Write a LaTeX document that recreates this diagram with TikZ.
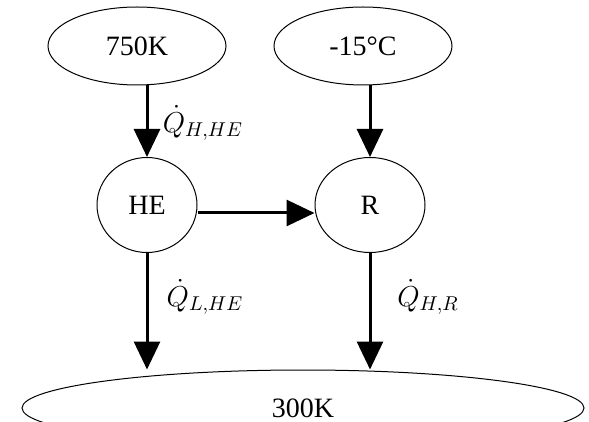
\documentclass[tikz,border=0pt]{standalone}
\usepackage{fontspec}
\setmainfont{Liberation Serif}
\usetikzlibrary{arrows.meta,shapes.geometric}
\tikzset{
  res/.style={draw, ellipse, line width=0.5pt, inner sep=0pt, font=\fontsize{14}{16}\selectfont},
  arr/.style={-{Triangle[length=14pt, width=13pt]}, line width=1.5pt},
  lbl/.style={font=\fontsize{14}{16}\selectfont, inner sep=1pt},
}
\begin{document}
\begin{tikzpicture}[x=0.5pt, y=-0.5pt]
\useasboundingbox (0,0) rectangle (589,422);
\clip (0,0) rectangle (589,422);
% reservoirs and devices
\node[res, minimum width=89pt, minimum height=39pt] (hot) at (137,46) {750K};
\node[res, minimum width=89pt, minimum height=39pt] (cold) at (363,46) {-15°C};
\node[res, minimum width=50pt, minimum height=47.5pt] (he) at (147,205) {HE};
\node[res, minimum width=55pt, minimum height=47.5pt] (ref) at (370,205) {R};
\node[res, minimum width=281pt, minimum height=38pt] (sink) at (303,408) {300K};
% heat and work flows
\draw[arr] (hot.south -| he.north) -- (he.north);
\draw[arr] (cold.south -| ref.north) -- (ref.north);
\draw[arr] ([yshift=-4pt]he.east) -- ([yshift=-4pt]ref.west);
\draw[arr] (he.south) -- (he.south |- sink.north);
\draw[arr] (ref.south) -- (ref.south |- sink.north);
\node[lbl] (qhhe) at (203,123) {$\dot{Q}_{H,HE}$};
\node[lbl] (qlhe) at (205,297) {$\dot{Q}_{L,HE}$};
\node[lbl] (qhr) at (428,297) {$\dot{Q}_{H,R}$};
\end{tikzpicture}
\end{document}
